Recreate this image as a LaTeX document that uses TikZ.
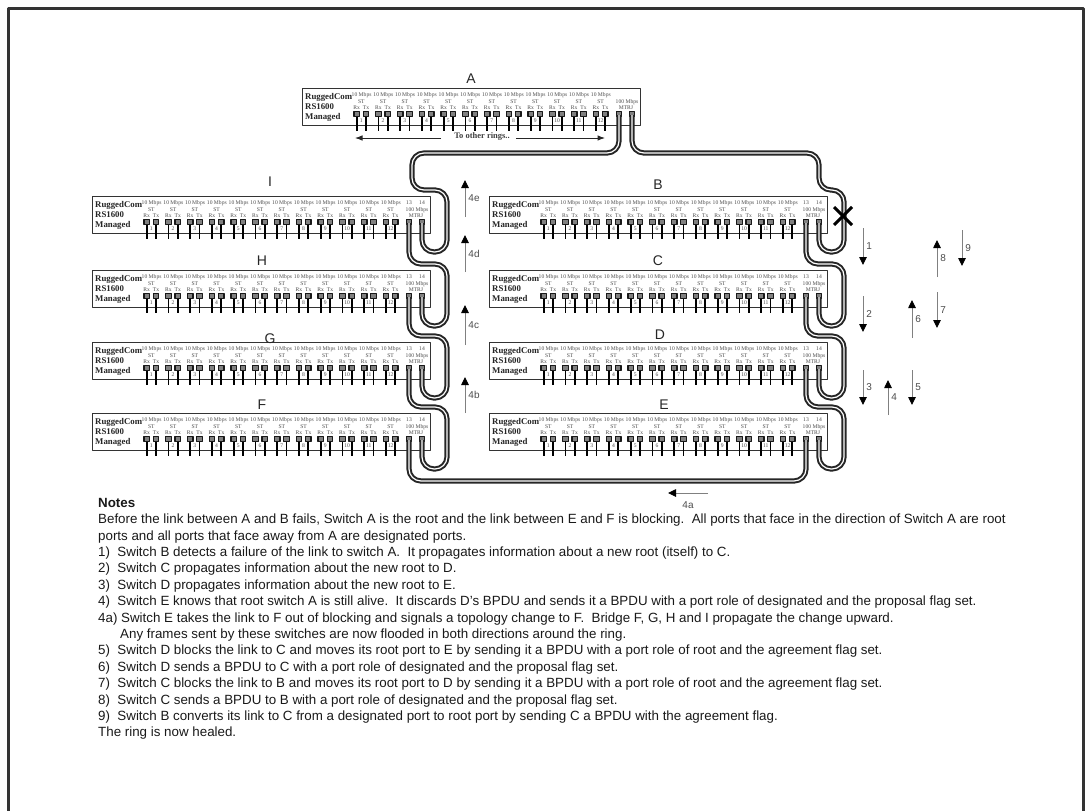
\documentclass[tikz,border=0pt]{standalone}
\usepackage{fontspec}
\setmainfont{Liberation Serif}
\setsansfont{Liberation Sans}
\usetikzlibrary{arrows.meta,calc}

\begin{document}
\begin{tikzpicture}[x=1pt,y=-1pt,>=Latex,line cap=butt,line join=round]
  \tikzset{
    frameline/.style={line width=3pt,black!80},
    swbox/.style={draw=black!80,line width=1.3pt,fill=white,minimum width=338pt,minimum height=37pt,inner sep=0pt,anchor=north west},
    brand/.style={font=\fontsize{8.8}{8.8}\selectfont\bfseries,black!85,inner sep=0pt,anchor=west},
    tiny/.style={font=\fontsize{5.6}{5.6}\selectfont,black!70,inner sep=0pt},
    portbox/.style={draw=black!90,line width=1.3pt,fill=black!50,minimum width=5.5pt,minimum height=4.5pt,inner sep=0pt},
    stub/.style={line width=1.8pt,black},
    cable/.style={draw=black!85,line width=2pt,double=white,double distance=1.2pt,rounded corners=12pt},
    swname/.style={font=\fontsize{14}{14}\selectfont\sffamily,black!85,inner sep=0pt},
    flow/.style={-{Triangle[length=8pt,width=7.5pt,black]},line width=0.9pt,black!50},
    flowlabel/.style={font=\fontsize{10}{10}\selectfont\sffamily,black!70,inner sep=3pt},
    ringarrow/.style={->,line width=1pt,black!85},
    cut/.style={line width=3pt,black}
  }

  \newcommand{\switchbox}[3]{
    \begin{scope}[shift={(#2,#3)}]
      \node[swbox] (#1) at (0,0) {};
      \node[brand] (#1brand) at (3,9) {RuggedCom};
      \node[brand] (#1model) at (3,19) {RS1600};
      \node[brand] (#1man) at (3,29) {Managed};
      \foreach \p in {1,...,12}{
        \pgfmathsetmacro{\px}{54.7+21.75*(\p-1)}
        \draw[stub] (\px,26) -- (\px,43);
        \draw[stub] (\px+9.3,26) -- (\px+9.3,43);
        \node[portbox] (#1rx\p) at (\px,26) {};
        \node[portbox] (#1tx\p) at (\px+9.3,26) {};
        \node[tiny] (#1rate\p) at (\px+4.9,7) {10 Mbps};
        \node[tiny] (#1st\p) at (\px+4.6,14) {ST};
        \node[tiny] (#1rl\p) at (\px,20) {Rx};
        \node[tiny] (#1tl\p) at (\px+9.3,20) {Tx};
        \node[tiny] (#1num\p) at (\px+4.6,33) {\p};
      }
      \node[tiny] (#1fast) at (325,14) {100 Mbps};
      \node[tiny] (#1mtrj) at (324,20) {MTRJ};
      \node[portbox] (#1f13) at (317,26) {};
      \node[portbox] (#1f14) at (330,26) {};
      \coordinate (#1p13) at (317,27);
      \coordinate (#1p14) at (330,27);
    \end{scope}
  }

  \newcommand{\ringlink}[2]{
    \draw[cable] (#1) -- (#1 |- {$(#2)+(0,-33)$}) -- ($(#2)+(25,-33)$) -- ($(#2)+(25,29)$) -- ($(#2)+(0,29)$) -- (#2);
  }

  \newcommand{\flowarrow}[5]{
    \coordinate (#1s) at (#2);
    \coordinate (#1e) at (#3);
    \draw[flow] (#1s) -- (#1e) node[flowlabel,midway,#4] (#1t) {#5};
  }

  \useasboundingbox (0,0) rectangle (1088,811);
  \draw[frameline] (8,815) -- (8,8) -- (1083,8) -- (1083,815);

  % the nine switches
  \switchbox{A}{302}{88}
  \foreach \nm/\bx/\by in {I/92/196,H/92/270,G/92/342,F/92/413,B/489/196,C/489/270,D/489/342,E/489/413}{
    \switchbox{\nm}{\bx}{\by}
    \node[tiny] (\nm l13) at (\bx+317,\by+7) {13};
    \node[tiny] (\nm l14) at (\bx+330,\by+7) {14};
  }

  \node[swname] (nameA) at (471,79) {A};
  \node[swname] (nameI) at (270,182) {I};
  \node[swname] (nameH) at (262,261) {H};
  \node[swname] (nameG) at (270,339) {G};
  \node[swname] (nameF) at (262,405) {F};
  \node[swname] (nameB) at (658,185) {B};
  \node[swname] (nameC) at (658,261) {C};
  \node[swname] (nameD) at (660,335) {D};
  \node[swname] (nameE) at (664,405) {E};

  % other rings on the copper ports of A
  \node[font=\fontsize{8.5}{8.5}\selectfont\bfseries,black!75,inner sep=0pt] (rings) at (482,136) {To other rings..};
  \coordinate (ringsL) at (355,138);
  \coordinate (ringsR) at (605,138);
  \draw[ringarrow] ($(rings.west)+(-13,2)$) -- (ringsL);
  \draw[ringarrow] ($(rings.east)+(6,2)$) -- (ringsR);

  % the ring itself
  \draw[cable] (Ap13) -- ++(0,38) -- ++(-207,0) |- ($(Ip14)+(25,-33)$) -- ($(Ip14)+(25,29)$) -- ($(Ip14)+(0,29)$) -- (Ip14);
  \draw[cable] (Ap14) -- ++(0,38) -- ($(Bp14)+(0,-70)$) -- ($(Bp14)+(0,-33)$) -- ($(Bp14)+(25,-33)$) -- ($(Bp14)+(25,29)$) -- ($(Bp14)+(0,29)$) -- (Bp14);
  \ringlink{Ip13}{Hp14}
  \ringlink{Hp13}{Gp14}
  \ringlink{Gp13}{Fp14}
  \ringlink{Bp13}{Cp14}
  \ringlink{Cp13}{Dp14}
  \ringlink{Dp13}{Ep14}
  \draw[cable] (Fp13) -- ($(Fp13)+(0,41)$) -- ($(Ep13)+(0,41)$) -- (Ep13);

  \coordinate (break) at (843,216);
  \draw[cut] ($(break)+(-9,-9)$) -- ($(break)+(9,9)$);
  \draw[cut] ($(break)+(-9,9)$) -- ($(break)+(9,-9)$);

  % BPDU steps
  \flowarrow{fe}{465,217}{465,180}{right}{4e}
  \flowarrow{fd}{465,272}{465,235}{right}{4d}
  \flowarrow{fc}{465,345}{465,305}{right}{4c}
  \flowarrow{fb}{465,413}{465,377}{right}{4b}
  \flowarrow{fa}{708,493}{668,493}{below=5pt}{4a}
  \flowarrow{sa}{863,228}{863,265}{right}{1}
  \flowarrow{sb}{863,296}{863,332}{right}{2}
  \flowarrow{sc}{863,370}{863,405}{right}{3}
  \flowarrow{sd}{888,415}{888,380}{right}{4}
  \flowarrow{se}{912,370}{912,405}{right}{5}
  \flowarrow{sf}{912,338}{912,300}{right}{6}
  \flowarrow{sg}{937,292}{937,328}{right}{7}
  \flowarrow{sh}{937,277}{937,240}{right}{8}
  \flowarrow{si}{962,230}{962,266}{right}{9}

  \node[anchor=north west,inner sep=0pt,align=left,black!90,font=\fontsize{13.35}{16.4}\selectfont\sffamily] (notes) at (98,498) {%
    \textbf{Notes}\\
    Before the link between A and B fails, Switch A is the root and the link between E and F is blocking.\ \ All ports that face in the direction of Switch A are root\\
    ports and all ports that face away from A are designated ports.\\
    1)\ \ Switch B detects a failure of the link to switch A.\ \ It propagates information about a new root (itself) to C.\\
    2)\ \ Switch C propagates information about the new root to D.\\
    3)\ \ Switch D propagates information about the new root to E.\\
    4)\ \ Switch E knows that root switch A is still alive.\ \ It discards D's BPDU and sends it a BPDU with a port role of designated and the proposal flag set.\\
    4a) Switch E takes the link to F out of blocking and signals a topology change to F.\ \ Bridge F, G, H and I propagate the change upward.\\
    \hspace*{22pt}Any frames sent by these switches are now flooded in both directions around the ring.\\
    5)\ \ Switch D blocks the link to C and moves its root port to E by sending it a BPDU with a port role of root and the agreement flag set.\\
    6)\ \ Switch D sends a BPDU to C with a port role of designated and the proposal flag set.\\
    7)\ \ Switch C blocks the link to B and moves its root port to D by sending it a BPDU with a port role of root and the agreement flag set.\\
    8)\ \ Switch C sends a BPDU to B with a port role of designated and the proposal flag set.\\
    9)\ \ Switch B converts its link to C from a designated port to root port by sending C a BPDU with the agreement flag.\\
    The ring is now healed.};
\end{tikzpicture}
\end{document}
